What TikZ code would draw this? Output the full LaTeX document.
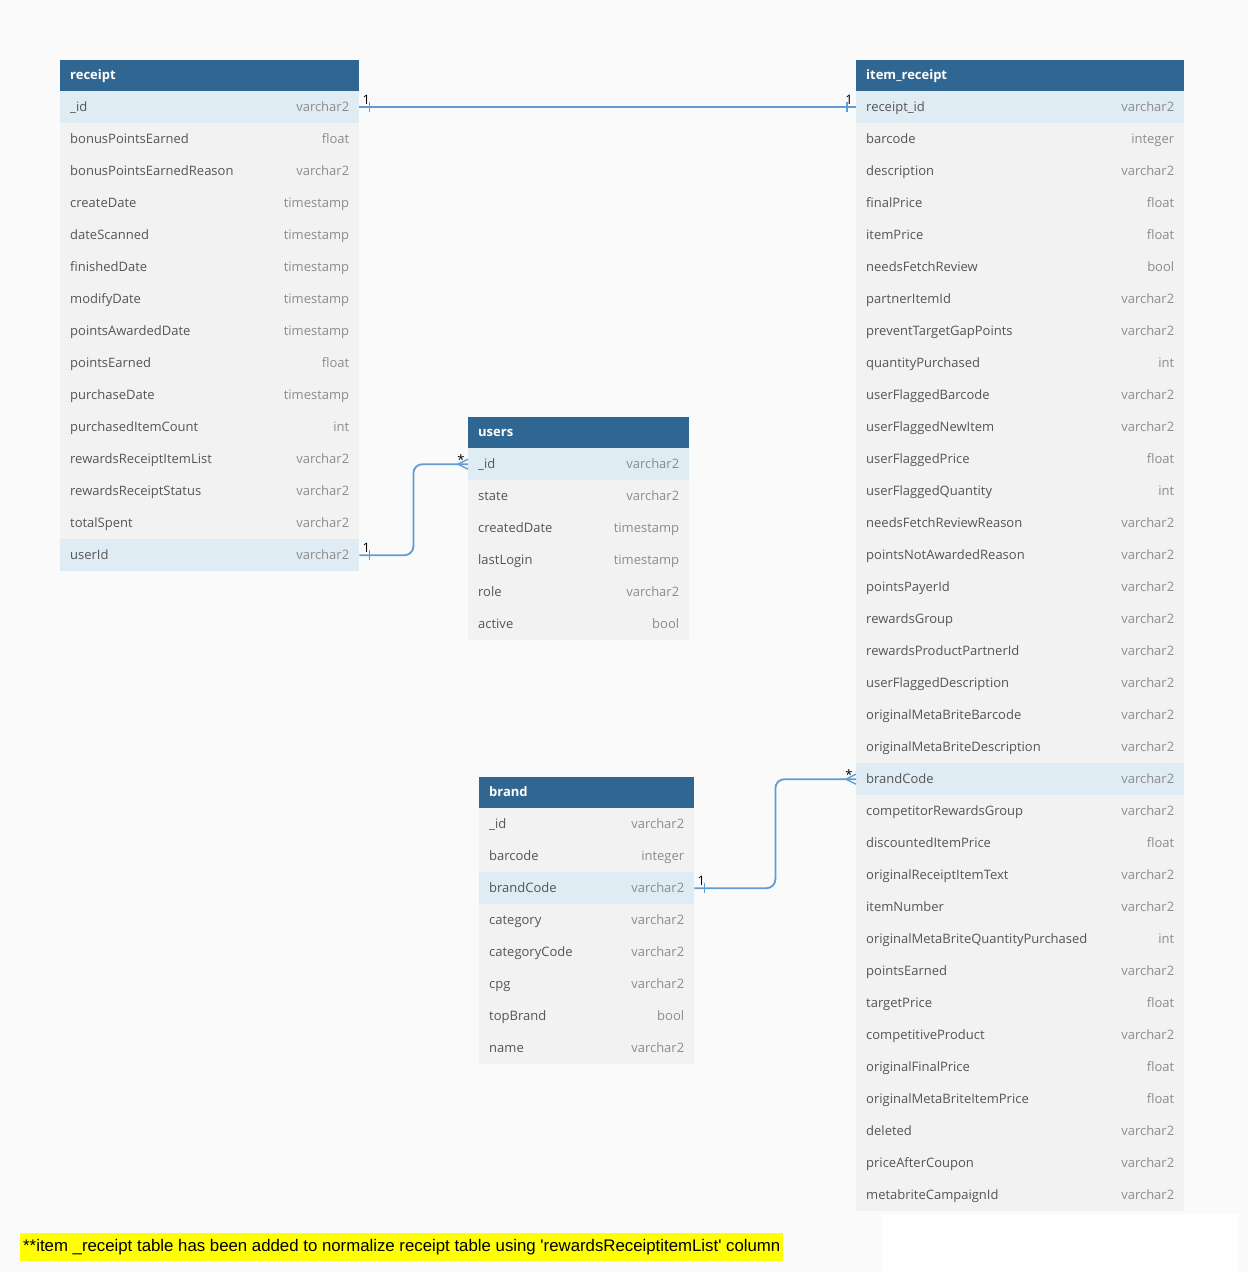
\documentclass[tikz,border=0pt]{standalone}
\usepackage{fontspec}
\setmainfont{Open Sans}
\newfontfamily\notefont{Liberation Sans}
\usetikzlibrary{calc}
\definecolor{bgc}{RGB}{250,250,250}
\definecolor{hdrc}{RGB}{48,103,146}
\definecolor{rowc}{RGB}{242,242,242}
\definecolor{hlc}{RGB}{223,236,244}
\definecolor{fldc}{RGB}{85,85,85}
\definecolor{typc}{RGB}{140,140,140}
\definecolor{connc}{RGB}{98,155,210}
\definecolor{notec}{RGB}{255,255,0}
\tikzset{
  hdr/.style={fill=hdrc, draw=none, minimum height=31, inner sep=0, anchor=north west},
  hdrtext/.style={text=white, font=\fontsize{13}{15}\selectfont\bfseries, anchor=west, inner sep=0, text height=9.5, text depth=3, yshift=-1},
  rowbox/.style={draw=none, minimum height=32, inner sep=0, anchor=north west},
  fld/.style={text=fldc, font=\fontsize{13}{15}\selectfont, anchor=west, inner sep=0, text height=9.5, text depth=3, yshift=-1},
  typ/.style={text=typc, font=\fontsize{13}{15}\selectfont, anchor=east, inner sep=0, text height=9.5, text depth=3, yshift=-1},
  conn/.style={draw=connc, line width=1.8},
  tickmark/.style={draw=connc, line width=1.4},
  card/.style={text=black, font=\fontsize{13}{15}\selectfont, inner sep=0}
}
% name, left x, top y, width, title, rows
\newcommand{\ertable}[6]{%
  \node[hdr, minimum width=#4] (#1) at (#2,#3) {};
  \node[hdrtext] (#1-title) at ($(#1.west)+(10,0)$) {#5};
  \foreach [count=\i] \f/\t/\h in {#6} {
    \pgfmathsetmacro\yy{#3+31+32*(\i-1)}
    \node[rowbox, minimum width=#4, fill=\h] (#1-\i) at (#2,\yy) {};
    \node[fld] (#1-\i-f) at ($(#1-\i.west)+(10,0)$) {\f};
    \node[typ] (#1-\i-t) at ($(#1-\i.east)+(-10,0)$) {\t};
  }
}
\begin{document}
\begin{tikzpicture}[x=1pt,y=-1pt]
\useasboundingbox (0,0) rectangle (1248,1272);
\fill[bgc] (0,0) rectangle (1248,1272);
\fill[white] (882,1214) rectangle (1238,1272);

\ertable{receipt}{60}{60}{299}{receipt}{
\_id/varchar2/hlc,
bonusPointsEarned/float/rowc,
bonusPointsEarnedReason/varchar2/rowc,
createDate/timestamp/rowc,
dateScanned/timestamp/rowc,
finishedDate/timestamp/rowc,
modifyDate/timestamp/rowc,
pointsAwardedDate/timestamp/rowc,
pointsEarned/float/rowc,
purchaseDate/timestamp/rowc,
purchasedItemCount/int/rowc,
rewardsReceiptItemList/varchar2/rowc,
rewardsReceiptStatus/varchar2/rowc,
totalSpent/varchar2/rowc,
userId/varchar2/hlc}

\ertable{item}{856}{60}{328}{item\_receipt}{
receipt\_id/varchar2/hlc,
barcode/integer/rowc,
description/varchar2/rowc,
finalPrice/float/rowc,
itemPrice/float/rowc,
needsFetchReview/bool/rowc,
partnerItemId/varchar2/rowc,
preventTargetGapPoints/varchar2/rowc,
quantityPurchased/int/rowc,
userFlaggedBarcode/varchar2/rowc,
userFlaggedNewItem/varchar2/rowc,
userFlaggedPrice/float/rowc,
userFlaggedQuantity/int/rowc,
needsFetchReviewReason/varchar2/rowc,
pointsNotAwardedReason/varchar2/rowc,
pointsPayerId/varchar2/rowc,
rewardsGroup/varchar2/rowc,
rewardsProductPartnerId/varchar2/rowc,
userFlaggedDescription/varchar2/rowc,
originalMetaBriteBarcode/varchar2/rowc,
originalMetaBriteDescription/varchar2/rowc,
brandCode/varchar2/hlc,
competitorRewardsGroup/varchar2/rowc,
discountedItemPrice/float/rowc,
originalReceiptItemText/varchar2/rowc,
itemNumber/varchar2/rowc,
originalMetaBriteQuantityPurchased/int/rowc,
pointsEarned/varchar2/rowc,
targetPrice/float/rowc,
competitiveProduct/varchar2/rowc,
originalFinalPrice/float/rowc,
originalMetaBriteItemPrice/float/rowc,
deleted/varchar2/rowc,
priceAfterCoupon/varchar2/rowc,
metabriteCampaignId/varchar2/rowc}

\ertable{users}{468}{417}{221}{users}{
\_id/varchar2/hlc,
state/varchar2/rowc,
createdDate/timestamp/rowc,
lastLogin/timestamp/rowc,
role/varchar2/rowc,
active/bool/rowc}

\ertable{brand}{479}{777}{215}{brand}{
\_id/varchar2/rowc,
barcode/integer/rowc,
brandCode/varchar2/hlc,
category/varchar2/rowc,
categoryCode/varchar2/rowc,
cpg/varchar2/rowc,
topBrand/bool/rowc,
name/varchar2/rowc}

% receipt._id -- item_receipt.receipt_id
\draw[conn] (receipt-1.east) -- (item-1.west);
\draw[tickmark] ($(receipt-1.east)+(10,-5)$) -- ++(0,10);
\draw[tickmark] ($(item-1.west)+(-9,-5)$) -- ++(0,10);
\node[card] (c1a) at ($(receipt-1.east)+(7,-7)$) {1};
\node[card] (c1b) at ($(item-1.west)+(-7,-7)$) {1};

% receipt.userId -- users._id
\draw[conn, rounded corners=9] (receipt-15.east) -- ++(54,0) |- (users-1.west);
\draw[tickmark] ($(receipt-15.east)+(10,-5)$) -- ++(0,10);
\draw[tickmark] ($(users-1.west)+(-10,0)$) -- ($(users-1.west)+(0,-5)$);
\draw[tickmark] ($(users-1.west)+(-10,0)$) -- ($(users-1.west)+(0,5)$);
\node[card] (c2a) at ($(receipt-15.east)+(7,-7)$) {1};
\node[card] (c2b) at ($(users-1.west)+(-7,-5)$) {*};

% brand.brandCode -- item_receipt.brandCode
\draw[conn, rounded corners=9] (brand-3.east) -- ++(81,0) |- (item-22.west);
\draw[tickmark] ($(brand-3.east)+(10,-5)$) -- ++(0,10);
\draw[tickmark] ($(item-22.west)+(-10,0)$) -- ($(item-22.west)+(0,-5)$);
\draw[tickmark] ($(item-22.west)+(-10,0)$) -- ($(item-22.west)+(0,5)$);
\node[card] (c3a) at ($(brand-3.east)+(7,-7)$) {1};
\node[card] (c3b) at ($(item-22.west)+(-7,-5)$) {*};

% note
\node[fill=notec, anchor=west, inner xsep=3, inner ysep=0, minimum height=28, text=black,
  font=\notefont\fontsize{16.8}{19}\selectfont] (note) at (20,1247)
  {**item \_receipt table has been added to normalize receipt table using \textquotesingle rewardsReceiptitemList\textquotesingle{} column};
\end{tikzpicture}
\end{document}
